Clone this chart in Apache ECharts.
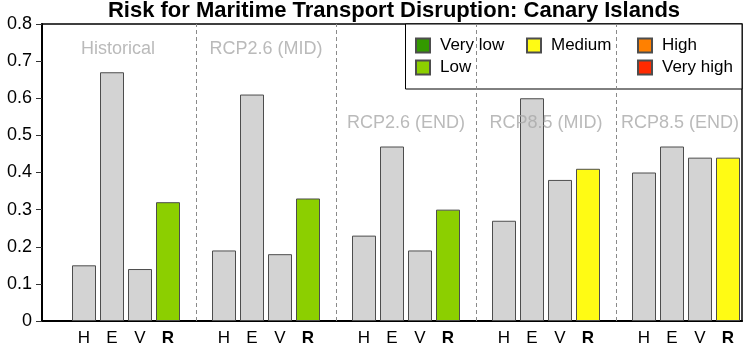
<!DOCTYPE html>
<html>
<head>
<meta charset="utf-8">
<script src="https://cdn.jsdelivr.net/npm/echarts@6/dist/echarts.min.js"></script>
<style>
  html, body { margin: 0; padding: 0; background: #fff; }
  #chart { width: 749px; height: 348px; }
</style>
</head>
<body>
<div id="chart"></div>
<script>
// data
const groups = ['Historical', 'RCP2.6 (MID)', 'RCP2.6 (END)', 'RCP8.5 (MID)', 'RCP8.5 (END)'];
const letters = ['H', 'E', 'V', 'R'];
const hazard = [0.15, 0.19, 0.23, 0.27, 0.40];
const exposure = [0.67, 0.61, 0.47, 0.60, 0.47];
const vulnerability = [0.14, 0.18, 0.19, 0.38, 0.44];
const risk = [0.32, 0.33, 0.30, 0.41, 0.44];
const riskLevel = ['Low', 'Low', 'Low', 'Medium', 'Medium'];
const levels = ['Very low', 'Low', 'Medium', 'High', 'Very high'];
const levelColors = ['#339900', '#8ccf00', '#fffb14', '#ff8000', '#ff2a00'];
const yTicks = [0, 0.1, 0.2, 0.3, 0.4, 0.5, 0.6, 0.7, 0.8];

// where the group titles sit (value units / pixel nudges)
const titleY = [0.733, 0.733, 0.532, 0.532, 0.532];
const titleNudge = [6, 14, 14, 14, 8];

const FONT = 'Liberation Sans, Arial, sans-serif';

// 5 slots per group: separator slot, then H E V R
const categories = [];
const grayData = [];
const levelData = levels.map(() => []);
groups.forEach((g, i) => {
  categories.push('');
  grayData.push(null);
  levelData.forEach(d => d.push(null));
  const vals = [hazard[i], exposure[i], vulnerability[i]];
  vals.forEach(v => {
    categories.push(letters[grayData.length % 5 - 1]);
    grayData.push(v);
    levelData.forEach(d => d.push(null));
  });
  categories.push('R');
  grayData.push(null);
  levelData.forEach((d, k) => d.push(levels[k] === riskLevel[i] ? risk[i] : null));
});

const border = { borderColor: '#4d4d4d', borderWidth: 1 };

const series = [{
  name: 'gray',
  type: 'bar',
  data: grayData,
  barWidth: 24,
  barGap: '-100%',
  itemStyle: Object.assign({ color: '#d3d3d3' }, border),
  markLine: {
    silent: true,
    symbol: 'none',
    label: { show: false },
    lineStyle: { color: '#8a8a8a', type: [4, 3], width: 1 },
    data: [5, 10, 15, 20].map(x => ({ xAxis: x }))
  }
}];
levels.forEach((name, k) => {
  series.push({
    name: name,
    type: 'bar',
    data: levelData[k],
    barWidth: 24,
    barGap: '-100%',
    itemStyle: Object.assign({ color: levelColors[k] }, border)
  });
});
series.push({
  type: 'scatter',
  symbolSize: 0,
  silent: true,
  data: groups.map((g, i) => ({
    value: [i * 5 + 2, titleY[i]],
    label: {
      show: true,
      position: 'inside',
      offset: [titleNudge[i], 0],
      formatter: g,
      color: '#a9a9a9',
      fontSize: 18,
      fontFamily: FONT
    }
  }))
});

const legendBase = {
  orient: 'vertical',
  top: 37,
  padding: 0,
  itemWidth: 14,
  itemHeight: 14,
  itemGap: 5,
  icon: 'rect',
  selectedMode: false,
  textStyle: { fontSize: 17, color: '#000', fontFamily: FONT, padding: [0, 0, 0, 5] }
};

const chart = echarts.init(document.getElementById('chart'));
chart.setOption({
  animation: false,
  title: {
    text: 'Risk for Maritime Transport Disruption: Canary Islands',
    left: 394,
    textAlign: 'center',
    top: 0,
    padding: 0,
    textStyle: { fontSize: 22, fontWeight: 'bold', color: '#000', fontFamily: FONT }
  },
  grid: {
    left: 42, top: 24, width: 700, bottom: 27,
    show: true, borderColor: '#000', borderWidth: 1.5
  },
  legend: [
    Object.assign({ left: 415, data: ['Very low', 'Low'] }, legendBase),
    Object.assign({ left: 526, data: ['Medium'] }, legendBase),
    Object.assign({ left: 637, data: ['High', 'Very high'] }, legendBase)
  ],
  graphic: [{
    type: 'rect',
    shape: { x: 405.5, y: 24, width: 336.5, height: 65 },
    style: { fill: '#fff', stroke: '#000', lineWidth: 1 },
    z: 3
  }],
  xAxis: {
    type: 'category',
    data: categories,
    axisLine: { lineStyle: { color: '#000', width: 2 } },
    axisTick: {
      alignWithLabel: true,
      length: 6,
      lineStyle: { color: '#555' },
      interval: (idx) => idx !== 0
    },
    axisLabel: {
      interval: 0,
      margin: 9,
      fontSize: 17,
      color: '#000',
      fontFamily: FONT,
      formatter: v => v === 'R' ? '{b|R}' : v,
      rich: { b: { fontWeight: 'bold', fontSize: 17, color: '#000', fontFamily: FONT } }
    },
    splitLine: { show: false }
  },
  yAxis: {
    type: 'value',
    min: yTicks[0],
    max: yTicks[yTicks.length - 1],
    interval: 0.1,
    axisLine: { show: true, lineStyle: { color: '#000', width: 2 } },
    axisTick: { show: true, length: 6, lineStyle: { color: '#333' } },
    axisLabel: { margin: 10, fontSize: 18, color: '#000', fontFamily: FONT },
    splitLine: { show: false }
  },
  series: series
});
</script>
</body>
</html>
